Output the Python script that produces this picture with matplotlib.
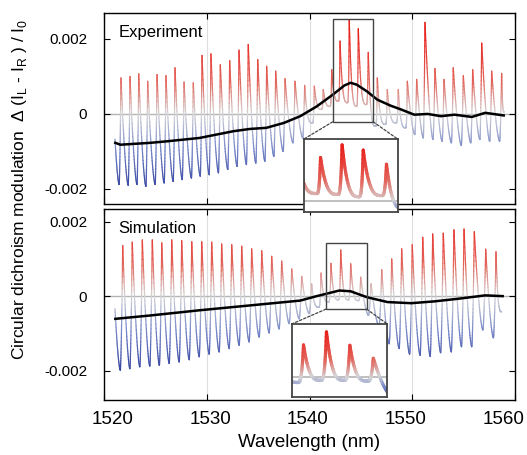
"""Circular dichroism modulation spectra: experiment vs simulation."""

import numpy as np
import matplotlib
matplotlib.use("Agg")
import matplotlib.pyplot as plt
from matplotlib.collections import LineCollection
from matplotlib.colors import LinearSegmentedColormap, Normalize, TwoSlopeNorm
from matplotlib.patches import Rectangle, ConnectionPatch
from matplotlib.transforms import ScaledTranslation

plt.rcParams["font.family"] = ["Liberation Sans", "DejaVu Sans"]
plt.rcParams["mathtext.fontset"] = "custom"
plt.rcParams["mathtext.rm"] = "Liberation Sans"

# ---- experiment: fringe maxima / minima (values in 1e-3) ----
exp_peak_nm = [1521.65, 1522.53, 1523.38, 1524.25, 1525.16, 1526.03, 1526.91,
               1527.79, 1528.69, 1529.54, 1530.41, 1531.32, 1532.23, 1533.14,
               1534.04, 1534.96, 1535.83, 1536.71, 1537.62, 1538.59, 1539.53,
               1540.47, 1541.34, 1542.16, 1542.97, 1543.87, 1544.75, 1545.72,
               1546.60, 1547.57, 1548.64, 1549.52, 1550.43, 1551.24, 1552.21,
               1553.09, 1553.99, 1554.97, 1555.88, 1556.76, 1557.73, 1558.70]
exp_peak = [0.96, 1.00, 1.07, 0.87, 1.05, 1.02, 1.23, 0.85, 0.83, 1.56, 1.60,
            1.31, 1.42, 1.70, 1.85, 1.45, 1.27, 1.14, 0.94, 0.87, 0.76,
            0.74, 0.65, 1.18, 1.94, 2.50, 2.27, 1.64, 0.96, 0.65, 0.65,
            0.87, 0.92, 2.44, 1.21, 0.92, 1.23, 1.02, 1.18, 1.89, 1.14, 1.08]
exp_trough = [-1.88, -1.90, -1.88, -1.93, -1.88, -1.84, -1.80, -1.75, -1.71,
              -1.66, -1.62, -1.57, -1.48, -1.40, -1.35, -1.31, -1.26, -1.13,
              -1.00, -0.77, -0.64,
              -0.24, 0.12, 0.20, 0.34, 0.30, 0.20, 0.25, -0.33, -0.28, -0.24,
              -0.37, -0.55, -0.64, -0.68, -0.73, -0.77, -0.84, -0.77, -0.68,
              -0.73, -0.73]
exp_start = (1521.07, -0.67)
exp_end = (1558.95, 0.05)

# smoothed (averaged) experimental CD
exp_mean_nm = [1521.1, 1521.6, 1524.5, 1526.1, 1529.3, 1532.6, 1534.2, 1535.8,
               1537.5, 1539.1, 1540.7, 1542.3, 1543.4, 1544.0, 1544.6, 1545.6,
               1546.6, 1547.9, 1548.9, 1550.2, 1551.5, 1552.8, 1554.1, 1555.8,
               1557.1, 1558.9]
exp_mean = [-0.77, -0.82, -0.77, -0.73, -0.64, -0.46, -0.40, -0.37, -0.24,
            -0.06, 0.20, 0.52, 0.76, 0.83, 0.78, 0.60, 0.38, 0.22, 0.12,
            -0.02, 0.00, -0.06, -0.02, -0.08, 0.03, -0.04]

# ---- simulation ----
sim_peak_nm = [1521.82, 1522.75, 1523.73, 1524.70, 1525.62, 1526.59, 1527.56,
               1528.54, 1529.51, 1530.48, 1531.45, 1532.43, 1533.40, 1534.37,
               1535.35, 1536.32, 1537.29, 1538.27, 1539.24, 1540.21, 1541.12,
               1542.09, 1543.04, 1544.01, 1544.98, 1545.99, 1547.03, 1548.00,
               1548.97, 1550.00, 1551.02, 1551.99, 1553.02, 1554.06, 1555.04,
               1556.04, 1557.15, 1558.15]
sim_peak = [1.36, 1.45, 1.51, 1.51, 1.43, 1.51, 1.49, 1.46, 1.46, 1.45,
            1.40, 1.38, 1.34, 1.27, 1.22, 1.07, 0.94, 0.73, 0.53, 0.33,
            0.62, 0.88, 1.24, 0.87, 0.51, 0.33, 0.71, 1.00, 1.27, 1.38,
            1.58, 1.67, 1.69, 1.78, 1.80, 1.73, 1.26, 1.19]
sim_trough = [-1.99, -1.95, -1.90, -1.88, -1.86, -1.81, -1.77, -1.71, -1.63,
              -1.56, -1.50, -1.41, -1.32, -1.23, -1.10, -0.99, -0.88, -0.74,
              -0.61, -0.47,
              -0.30, -0.16, -0.10, -0.10, -0.12, -0.52, -0.81, -1.28, -1.41,
              -1.56, -1.59, -1.62, -1.52, -1.50, -1.36, -1.36, -0.91, -1.12]
sim_start = (1521.07, -0.34)
sim_end = (1558.70, -0.42)

sim_mean_nm = [1521.1, 1524.5, 1529.3, 1534.2, 1539.1, 1540.7, 1541.0, 1542.9,
               1544.0, 1545.6, 1547.6, 1549.9, 1552.2, 1554.5, 1557.1, 1558.8]
sim_mean = [-0.61, -0.52, -0.38, -0.25, -0.12, 0.00, 0.02, 0.15, 0.13, -0.03,
            -0.16, -0.19, -0.14, -0.07, 0.02, 0.00]

# zoom windows (nm, 1e-3)
exp_box = (1542.26, 1546.20, -0.21, 2.53)
sim_box = (1541.60, 1545.56, -0.35, 1.44)

cd_cmap = LinearSegmentedColormap.from_list(
    "cd", [(0.0, "#2c3c9c"), (0.28, "#7888c8"), (0.5, "#d6d6d8"),
           (0.7, "#e2665c"), (1.0, "#e8211b")])


def fringe_curve(start, peaks, tops, bottoms, end, frac, n=30):
    """Fringe profile through the read minima and maxima.

    Deep fringes get V-shaped flanks; shallow ones (minimum near zero)
    get narrow peaks sitting on a flat floor.
    """
    peaks = np.asarray(peaks, float)
    gaps = np.diff(peaks)
    gaps = np.r_[gaps[0], gaps]
    kx, ky = [start[0]], [start[1]]
    for p, g, hi, lo in zip(peaks, gaps, tops, bottoms):
        kx += [p - frac * g, p]
        ky += [lo, hi]
    kx.append(end[0])
    ky.append(end[1])
    xs, ys = [], []
    s = np.linspace(0, 1, n, endpoint=False)
    for xa, xb, ya, yb in zip(kx[:-1], kx[1:], ky[:-1], ky[1:]):
        k = 3.2 if min(ya, yb) > -0.45 else 1.6
        shape = s ** k if yb > ya else 1 - (1 - s) ** k
        xs.append(xa + (xb - xa) * s)
        ys.append(ya + (yb - ya) * shape)
    xs.append([kx[-1]])
    ys.append([ky[-1]])
    return np.concatenate(xs), np.concatenate(ys)


def colored_line(ax, x, y, lw, norm):
    pts = np.column_stack([x, y]).reshape(-1, 1, 2)
    segs = np.concatenate([pts[:-1], pts[1:]], axis=1)
    lc = LineCollection(segs, cmap=cd_cmap, norm=norm, linewidths=lw,
                        capstyle="round", joinstyle="round", zorder=2)
    lc.set_array(0.5 * (y[:-1] + y[1:]))
    ax.add_collection(lc)


W, H = 527, 455
fig = plt.figure(figsize=(W / 100, H / 100), dpi=100)
ax_exp = fig.add_axes([104 / W, 1 - 204 / H, 411 / W, 191 / H])
ax_sim = fig.add_axes([104 / W, 1 - 400 / H, 411 / W, 191 / H])

panels = [
    (ax_exp, "Experiment", exp_start, exp_peak_nm, exp_peak, exp_trough,
     exp_end, 0.2, exp_mean_nm, exp_mean, (-2.40, 2.69), exp_box,
     [303.5, 139.3, 398.0, 212.0], (-0.48, 2.75),
     TwoSlopeNorm(0, -0.9, 2.3)),
    (ax_sim, "Simulation", sim_start, sim_peak_nm, sim_peak, sim_trough,
     sim_end, 0.25, sim_mean_nm, sim_mean, (-2.79, 2.34), sim_box,
     [291.7, 324.0, 387.3, 397.3], (-0.57, 1.46),
     TwoSlopeNorm(0, -0.7, 1.15)),
]

for (ax, name, start, pk_nm, pk, tr, end, frac, m_nm, m_val, ylim, box,
     ins_px, ins_ylim, ins_norm) in panels:
    x, y = fringe_curve(start, pk_nm, pk, tr, end, frac)
    for g in (1530, 1540, 1550):
        ax.axvline(g, color="#dedede", lw=0.8, zorder=0)
    ax.axhline(0, color="#b4b4b4", lw=1.0, zorder=1)
    colored_line(ax, x, y, 0.9, Normalize(-2.1, 2.1))
    ax.plot(m_nm, m_val, color="black", lw=1.8, zorder=4)

    ax.set_xlim(1520, 1560)
    ax.set_ylim(*ylim)
    ax.set_yticks([-2, 0, 2])
    ax.set_yticklabels(["-0.002", "0", "0.002"], fontsize=11)
    ax.set_xticks([1520, 1530, 1540, 1550, 1560])
    ax.tick_params(direction="in", length=4, width=0.8, top=True, right=True)
    ax.tick_params(axis="y", pad=12)
    ax.tick_params(axis="x", pad=8, labelsize=13.5)
    for sp in ax.spines.values():
        sp.set_linewidth(1.0)
    ax.text(0.035, 0.9, name, transform=ax.transAxes, fontsize=12,
            va="center", ha="left")

    # zoom window and its enlarged view
    x0, x1, y0, y1 = box
    ax.add_patch(Rectangle((x0, y0), x1 - x0, y1 - y0, fill=False,
                           edgecolor="#444444", lw=1.0, zorder=5))
    l, t, r, b = ins_px
    ins = fig.add_axes([l / W, 1 - b / H, (r - l) / W, (b - t) / H])
    ins.set_facecolor("white")
    ins.axhline(0, color="#b4b4b4", lw=1.2, zorder=1)
    colored_line(ins, x, y, 2.3, ins_norm)
    ins.set_xlim(x0, x1)
    ins.set_ylim(*ins_ylim)
    ins.set_xticks([])
    ins.set_yticks([])
    for sp in ins.spines.values():
        sp.set_edgecolor("#444444")
        sp.set_linewidth(1.3)
    for xa, xi in ((x0, 0), (x1, 1)):
        con = ConnectionPatch(xyA=(xa, y0), coordsA=ax.transData,
                              xyB=(xi, 1), coordsB=ins.transAxes,
                              color="#444444", lw=0.9, ls=(0, (2, 1.5)))
        fig.add_artist(con)

ax_exp.tick_params(axis="x", labelbottom=False)
ax_sim.set_xlabel("Wavelength (nm)", fontsize=13.5, labelpad=4)

# wavelength labels sit on a slightly narrower spread than the ticks
for i, lab in enumerate(ax_sim.get_xticklabels()):
    dx = (8.5 - 5.1 * i) / 100
    lab.set_transform(lab.get_transform()
                      + ScaledTranslation(dx, 0, fig.dpi_scale_trans))

fig.text(20 / W, 1 - 189 / H,
         r"Circular dichroism modulation  $\Delta$ (I$_\mathregular{L}$ - "
         r"I$_\mathregular{R}$ ) / I$_\mathregular{0}$",
         rotation=90, fontsize=12.5, ha="center", va="center")

fig.savefig("out.png", dpi=100)
